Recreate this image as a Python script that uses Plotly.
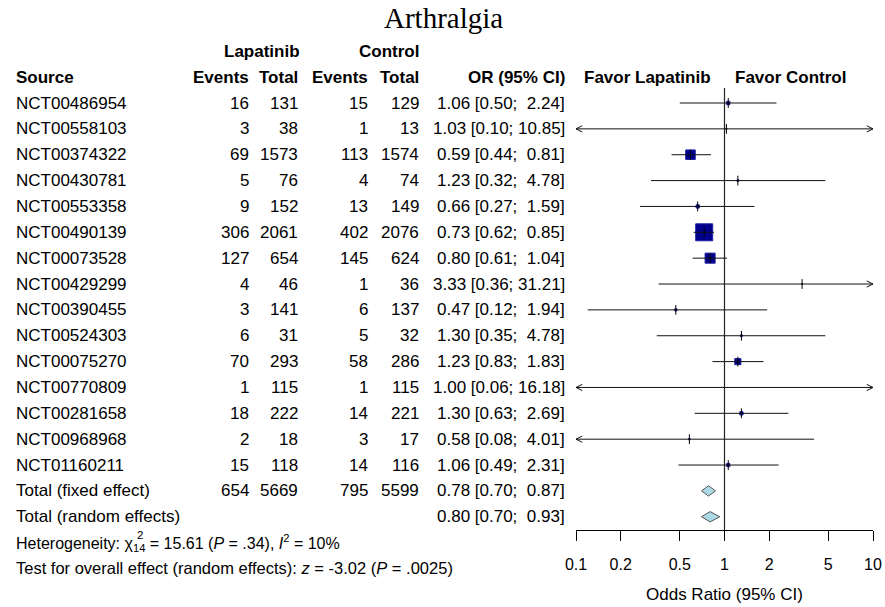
import numpy as np
import plotly.graph_objects as go

# ---- study data -----------------------------------------------------------
sources = ["NCT00486954", "NCT00558103", "NCT00374322", "NCT00430781",
           "NCT00553358", "NCT00490139", "NCT00073528", "NCT00429299",
           "NCT00390455", "NCT00524303", "NCT00075270", "NCT00770809",
           "NCT00281658", "NCT00968968", "NCT01160211"]
lap_events = [16, 3, 69, 5, 9, 306, 127, 4, 3, 6, 70, 1, 18, 2, 15]
lap_total = [131, 38, 1573, 76, 152, 2061, 654, 46, 141, 31, 293, 115, 222, 18, 118]
ctl_events = [15, 1, 113, 4, 13, 402, 145, 1, 6, 5, 58, 1, 14, 3, 14]
ctl_total = [129, 13, 1574, 74, 149, 2076, 624, 36, 137, 32, 286, 115, 221, 17, 116]
or_est = [1.06, 1.03, 0.59, 1.23, 0.66, 0.73, 0.80, 3.33, 0.47, 1.30, 1.23, 1.00, 1.30, 0.58, 1.06]
or_lo = [0.50, 0.10, 0.44, 0.32, 0.27, 0.62, 0.61, 0.36, 0.12, 0.35, 0.83, 0.06, 0.63, 0.08, 0.49]
or_hi = [2.24, 10.85, 0.81, 4.78, 1.59, 0.85, 1.04, 31.21, 1.94, 4.78, 1.83, 16.18, 2.69, 4.01, 2.31]

# pooled estimates
pooled_labels = ["Total (fixed effect)", "Total (random effects)"]
pooled_est = [0.78, 0.80]
pooled_lo = [0.70, 0.70]
pooled_hi = [0.87, 0.93]

tick_vals = [0.1, 0.2, 0.5, 1, 2, 5, 10]
tick_text = ["0.1", "0.2", "0.5", "1", "2", "5", "10"]

het_text = ("Heterogeneity: χ<sub>14</sub> = 15.61 (<i>P</i> = .34), "
            "<i>I</i><sup>2</sup> = 10%")
het_df_sup = "2"
test_text = "Test for overall effect (random effects): <i>z</i> = -3.02 (<i>P</i> = .0025)"

# ---- layout geometry ------------------------------------------------------
W, H = 885, 607
ROW0_PX, ROW_STEP = 103, 25.86          # pixel centre of first row, row pitch
Y_TOP = -ROW0_PX / ROW_STEP
Y_BOT = (H - ROW0_PX) / ROW_STEP
AXIS_ROW = 16.51
X_MIN, X_MAX = 0.1, 10
FONT = "Liberation Sans, Arial, sans-serif"
NBSP = "\u00a0"

n = len(sources)
rows = list(range(n))
fixed_row, random_row = n, n + 1

fig = go.Figure()

# Mantel-Haenszel weights -> square sizes (area proportional to weight)
mh_w = []
for a, n1, c, n2 in zip(lap_events, lap_total, ctl_events, ctl_total):
    b = n1 - a
    mh_w.append(b * c / (n1 + n2))
mh_w = np.array(mh_w)
sq_size = 1.3 * np.sqrt(mh_w)

fig.add_trace(go.Scatter(
    x=or_est, y=rows, mode="markers",
    marker=dict(symbol="square", size=sq_size, color="#00008b", opacity=1,
                line=dict(color="#1f1fa0", width=1)),
    hoverinfo="skip", showlegend=False))

# confidence interval lines, clipped to the axis with arrows where truncated
ci_x, ci_y = [], []
arr_x, arr_y = [], []
d = 10 ** 0.042
h = 0.12
for r, lo, hi in zip(rows, or_lo, or_hi):
    x0, x1 = max(lo, X_MIN), min(hi, X_MAX)
    ci_x += [x0, x1, None]
    ci_y += [r, r, None]
    if lo <= X_MIN:
        arr_x += [x0 * d, x0, x0 * d, None]
        arr_y += [r - h, r, r + h, None]
    if hi >= X_MAX:
        arr_x += [x1 / d, x1, x1 / d, None]
        arr_y += [r - h, r, r + h, None]

fig.add_trace(go.Scatter(x=ci_x, y=ci_y, mode="lines",
                         line=dict(color="#111111", width=1),
                         hoverinfo="skip", showlegend=False))
fig.add_trace(go.Scatter(x=arr_x, y=arr_y, mode="lines",
                         line=dict(color="#111111", width=1),
                         hoverinfo="skip", showlegend=False))
# small vertical tick at each point estimate
fig.add_trace(go.Scatter(
    x=or_est, y=rows, mode="markers",
    marker=dict(symbol="line-ns", size=7, line=dict(color="black", width=1)),
    hoverinfo="skip", showlegend=False))

# pooled diamonds
dh = 0.2
for r, est, lo, hi in zip([fixed_row, random_row], pooled_est, pooled_lo, pooled_hi):
    fig.add_trace(go.Scatter(
        x=[lo, est, hi, est, lo], y=[r, r - dh, r, r + dh, r],
        mode="lines", fill="toself", fillcolor="#add8e6",
        line=dict(color="#555555", width=1),
        hoverinfo="skip", showlegend=False))

# reference line at OR = 1
fig.add_shape(type="line", xref="x", yref="y", x0=1, x1=1, y0=-0.58, y1=AXIS_ROW,
              line=dict(color="#222222", width=1.2))


# ---- text table -----------------------------------------------------------
def txt(s, xpx, row, anchor="right", size=17, bold=False, family=FONT):
    if bold:
        s = "<b>" + s + "</b>"
    fig.add_annotation(text=s, xref="paper", yref="y", x=xpx / W, y=row,
                       xanchor=anchor, yanchor="middle", showarrow=False,
                       font=dict(family=family, size=size, color="black"))


def ci_str(est, lo, hi):
    return f"{est:.2f} [{lo:.2f}; {hi:5.2f}]".replace(" ", NBSP)


COL_SRC, COL_LE, COL_LT, COL_CE, COL_CT, COL_OR = 14, 251, 300, 370, 421, 567

txt("Arthralgia", 443, -3.3, anchor="center", size=29,
    family="Liberation Serif, Times New Roman, serif")
txt("Lapatinib", COL_LT + 2, -2, bold=True)
txt("Control", COL_CT, -2, bold=True)
txt("Source", COL_SRC, -1, anchor="left", bold=True)
txt("Events", COL_LE, -1, bold=True)
txt("Total", COL_LT, -1, bold=True)
txt("Events", COL_CE, -1, bold=True)
txt("Total", COL_CT, -1, bold=True)
txt("OR (95% CI)", COL_OR, -1, bold=True)
txt("Favor Lapatinib", 713, -1, bold=True)
txt("Favor Control", 733, -1, anchor="left", bold=True)

for r in rows:
    txt(sources[r], COL_SRC, r, anchor="left")
    txt(str(lap_events[r]), COL_LE, r)
    txt(str(lap_total[r]), COL_LT, r)
    txt(str(ctl_events[r]), COL_CE, r)
    txt(str(ctl_total[r]), COL_CT, r)
    txt(ci_str(or_est[r], or_lo[r], or_hi[r]), COL_OR, r)

txt(pooled_labels[0], COL_SRC, fixed_row, anchor="left")
txt(str(sum(lap_events)), COL_LE, fixed_row)
txt(str(sum(lap_total)), COL_LT, fixed_row)
txt(str(sum(ctl_events)), COL_CE, fixed_row)
txt(str(sum(ctl_total)), COL_CT, fixed_row)
txt(ci_str(pooled_est[0], pooled_lo[0], pooled_hi[0]), COL_OR, fixed_row)
txt(pooled_labels[1], COL_SRC, random_row, anchor="left")
txt(ci_str(pooled_est[1], pooled_lo[1], pooled_hi[1]), COL_OR, random_row)

txt(het_text, COL_SRC, random_row + 1, anchor="left", size=16)
# chi-square degree "2" stacked above the subscript
txt(het_df_sup, 135, random_row + 0.72, anchor="left", size=11.5)
txt(test_text, COL_SRC, random_row + 2, anchor="left", size=16.5)

fig.add_annotation(text="Odds Ratio (95% CI)", xref="x", yref="y", x=0, y=19,
                   xanchor="center", yanchor="middle", showarrow=False,
                   font=dict(family=FONT, size=17, color="black"))

# ---- axes -----------------------------------------------------------------
fig.update_layout(
    width=W, height=H,
    margin=dict(l=0, r=0, t=0, b=0, pad=0, autoexpand=False),
    paper_bgcolor="white", plot_bgcolor="white",
    xaxis=dict(type="log", range=[np.log10(X_MIN), np.log10(X_MAX)],
               domain=[576 / W, 873 / W], anchor="free", automargin=False,
               position=(Y_BOT - AXIS_ROW) / (Y_BOT - Y_TOP),
               tickvals=tick_vals, ticktext=tick_text,
               ticks="outside", ticklen=10, tickwidth=1, tickcolor="black",
               ticklabelstandoff=10,
               showline=True, linecolor="black", linewidth=1,
               showgrid=False, zeroline=False,
               tickfont=dict(family=FONT, size=16, color="black")),
    yaxis=dict(range=[Y_BOT, Y_TOP], domain=[0, 1], visible=False,
               automargin=False, showgrid=False, zeroline=False),
)

fig.write_html("out.html")
